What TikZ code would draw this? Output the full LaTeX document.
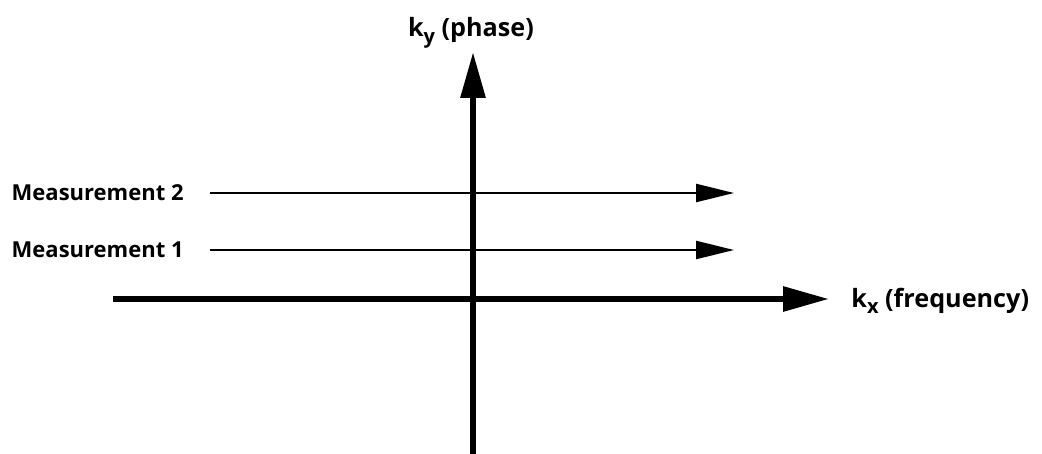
\documentclass[tikz,border=0pt]{standalone}
\usepackage{fontspec}
\setmainfont{Open Sans}
\usetikzlibrary{arrows.meta}
\newcommand{\lowsub}[1]{\raisebox{-0.45ex}{\fontsize{10}{11}\selectfont #1}}

\begin{document}
\begin{tikzpicture}[x=0.5pt, y=-0.5pt,
	axis/.style={line width=3pt, -{Triangle[length=23pt, width=12pt]}},
	scan/.style={line width=1.2pt, -{Triangle[length=19pt, width=9pt]}},
	lbl/.style={font=\bfseries\fontsize{11}{12}\selectfont, inner sep=0pt},
	axlbl/.style={font=\bfseries\fontsize{12.6}{14}\selectfont, inner sep=0pt}]
	
	\useasboundingbox (0,0) rectangle (1042,454);
	
	% -- Axes ----------------------------------------------------
	\coordinate (xL) at (113,299);
	\coordinate (xR) at (829,299);
	\coordinate (yB) at (473,458);
	\coordinate (yT) at (473,52);
	\draw[axis] (xL) -- (xR);
	\draw[axis] (yB) -- (yT);
	\node[axlbl, anchor=base west] (kx) at (851,307) {k\lowsub{x} (frequency)};
	\node[axlbl, anchor=base] (ky) at (471,37) {k\lowsub{y} (phase)};
	
	% -- Measurement lines ---------------------------------------
	\node[lbl, anchor=east] (m2) at (184,193) {Measurement 2};
	\node[lbl, anchor=east] (m1) at (184,250) {Measurement 1};
	\coordinate (m2e) at (734,193);
	\coordinate (m1e) at (734,250);
	\draw[scan] (210,193) -- (m2e);
	\draw[scan] (210,250) -- (m1e);
	
\end{tikzpicture}
\end{document}
